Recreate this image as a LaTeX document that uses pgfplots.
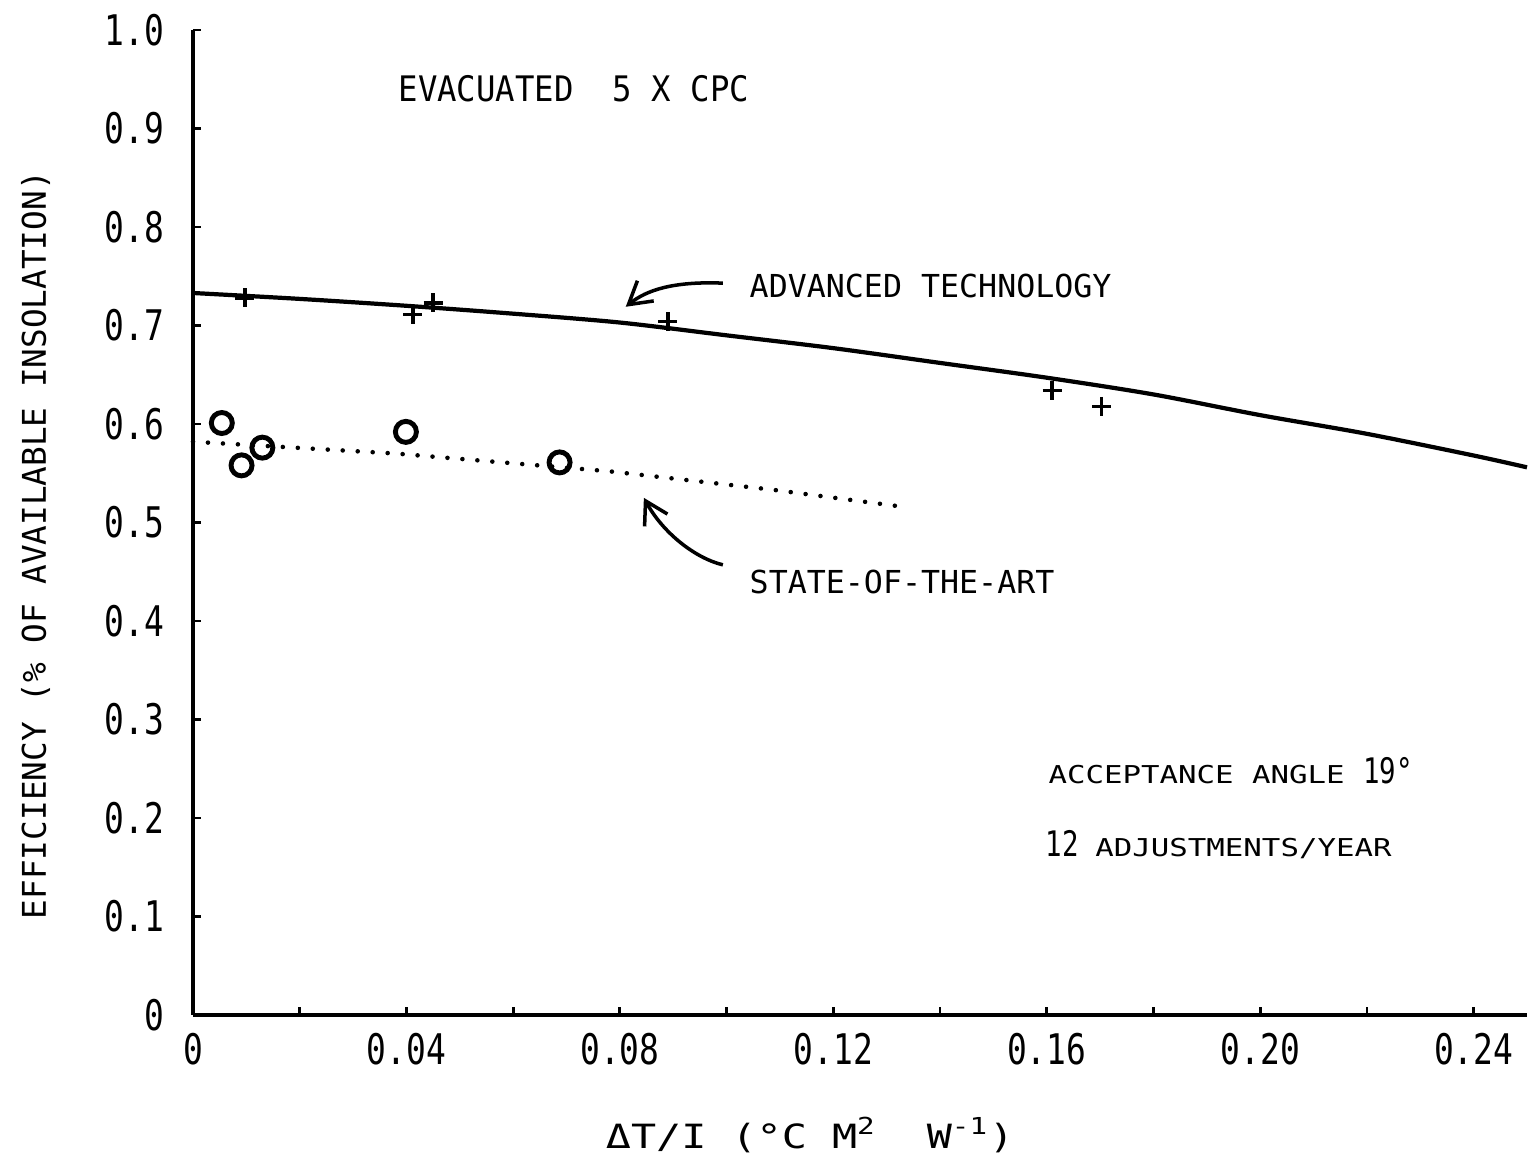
\documentclass[border=0pt]{standalone}
\usepackage{fontspec}
\usepackage{pgfplots}
\pgfplotsset{compat=1.18}
\usetikzlibrary{arrows.meta}
\setmainfont{DejaVu Sans Mono}
\newfontfamily\monofont{DejaVu Sans Mono}
\newfontfamily\tickfont[FakeStretch=0.78]{DejaVu Sans Mono}
\newfontfamily\condfont[FakeStretch=0.92]{DejaVu Sans Mono}
\newfontfamily\widefont[FakeStretch=1.25]{DejaVu Sans Mono}

\pgfplotstableread{
x y
0.000 0.733
0.020 0.727
0.040 0.720
0.060 0.712
0.080 0.703
0.100 0.690
0.120 0.677
0.140 0.662
0.160 0.647
0.180 0.630
0.200 0.609
0.220 0.590
0.240 0.568
0.250 0.556
}\advcurve

\pgfplotstableread{
x y
0.0097 0.728
0.0412 0.711
0.0450 0.723
0.0890 0.704
0.1610 0.634
0.1703 0.618
}\advpts

\pgfplotstableread{
x y
0.0054 0.601
0.0091 0.558
0.0130 0.576
0.0399 0.592
0.0687 0.561
}\soapts

\pgfplotstableread{
x y
0.000 0.582
0.038 0.570
0.078 0.552
0.109 0.533
0.1334 0.5157
}\soaline

\begin{document}
\begin{tikzpicture}
\useasboundingbox (0,0) rectangle (15.29cm,11.60cm);
\begin{axis}[
  at={(1.93cm,1.45cm)}, anchor=south west,
  scale only axis, width=13.34cm, height=9.85cm,
  xmin=0, xmax=0.25, ymin=0, ymax=1,
  axis lines=left,
  axis line style={line width=0.9pt, -},
  xtick={0,0.04,0.08,0.12,0.16,0.20,0.24},
  xticklabels={0,0.04,0.08,0.12,0.16,0.20,0.24},
  minor xtick={0.02,0.06,0.10,0.14,0.18,0.22},
  ytick={0,0.1,0.2,0.3,0.4,0.5,0.6,0.7,0.8,0.9,1.0},
  yticklabels={0,0.1,0.2,0.3,0.4,0.5,0.6,0.7,0.8,0.9,1.0},
  tick align=inside,
  major tick length=0.8mm, minor tick length=0.8mm,
  every tick/.style={line width=0.8pt, black},
  xticklabel style={font=\fontsize{12}{12}\selectfont\tickfont, inner sep=0pt, anchor=north, yshift=-1.7mm},
  yticklabel style={font=\fontsize{12}{12}\selectfont\tickfont, inner sep=0pt, anchor=east, xshift=-2.8mm},
  xlabel={ΔT/I~(°C~M\textsuperscript{2}~~W\textsuperscript{-1})},
  xlabel style={font=\fontsize{9.5}{11}\selectfont\widefont, at={(axis description cs:0.4625,-0.122)}, anchor=center, inner sep=0pt},
  ylabel={EFFICIENCY (\% OF AVAILABLE INSOLATION)},
  ylabel style={font=\fontsize{9.3}{11}\selectfont\monofont, at={(axis description cs:-0.118,0.477)}, anchor=center, inner sep=0pt},
  clip=false,
]
\addplot[black, line width=1.2pt, smooth, no markers] table {\advcurve};
\addplot[black, line width=1.3pt, dash pattern=on 0pt off 1.5mm, line cap=round, no markers] table {\soaline};
\addplot[only marks, mark=+, mark size=0.95mm, mark options={line width=1.0pt, black}] table {\advpts};
\addplot[only marks, mark=o, mark size=1.05mm, mark options={line width=1.4pt, black}] table {\soapts};

\draw[black, line width=1.0pt, -{Straight Barb[length=2.2mm, width=2.6mm]}]
  (axis cs:0.0993,0.743) .. controls (axis cs:0.090,0.745) and (axis cs:0.085,0.736) .. (axis cs:0.0811,0.719);
\draw[black, line width=1.0pt, -{Straight Barb[length=2.2mm, width=2.6mm]}]
  (axis cs:0.0993,0.457) .. controls (axis cs:0.094,0.464) and (axis cs:0.088,0.490) .. (axis cs:0.0845,0.525);

\node[anchor=west, inner sep=0pt, font=\fontsize{9}{11}\selectfont\monofont] at (axis cs:0.1042,0.740) {ADVANCED TECHNOLOGY};
\node[anchor=west, inner sep=0pt, font=\fontsize{9}{11}\selectfont\monofont] at (axis cs:0.1042,0.4396) {STATE-OF-THE-ART};
\node[anchor=west, inner sep=0pt, font=\fontsize{10}{11}\selectfont\condfont] at (axis cs:0.0384,0.940) {EVACUATED~~5 X CPC};
\node[anchor=base west, inner sep=0pt] at (axis cs:0.1602,0.2355) {{\fontsize{7}{8}\selectfont\widefont ACCEPTANCE ANGLE }{\fontsize{10}{12}\selectfont\tickfont 19°}};
\node[anchor=base west, inner sep=0pt] at (axis cs:0.1597,0.1614) {{\fontsize{10}{12}\selectfont\tickfont 12 }{\fontsize{7}{8}\selectfont\widefont ADJUSTMENTS/YEAR}};
\end{axis}
\end{tikzpicture}
\end{document}
